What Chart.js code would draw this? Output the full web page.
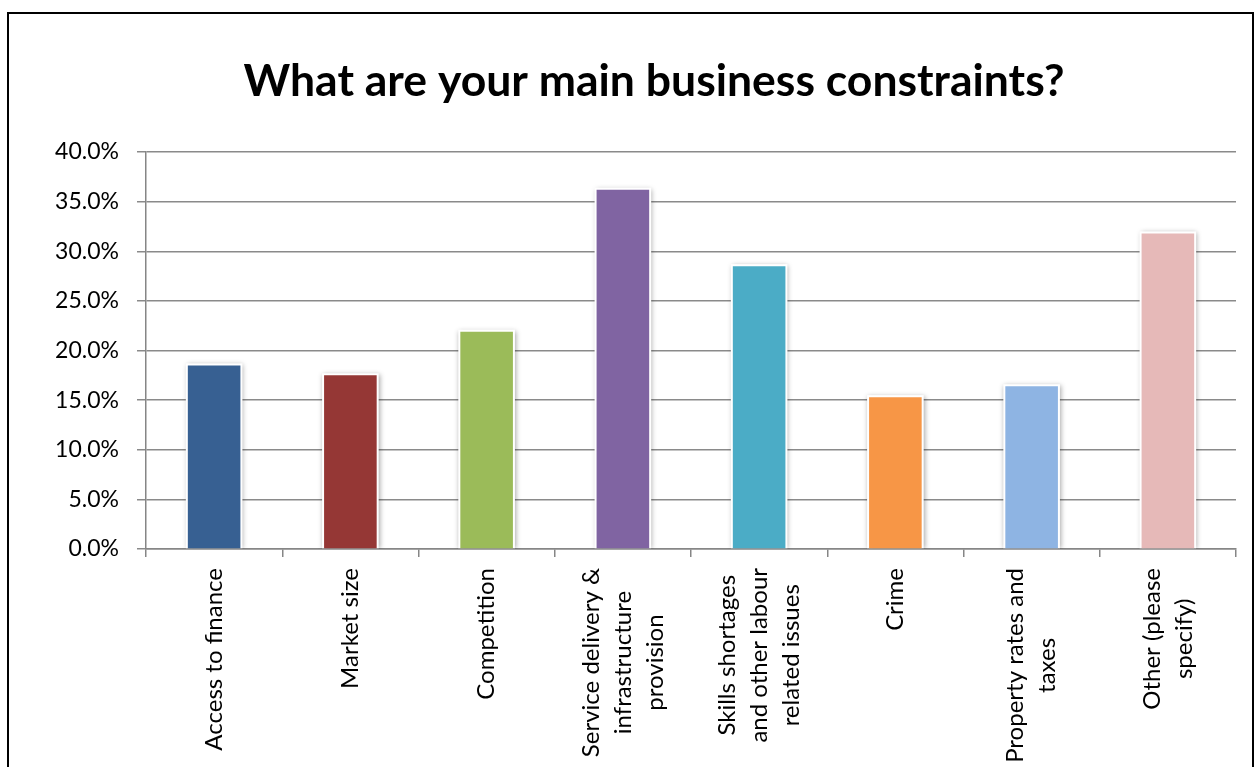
<!DOCTYPE html>
<html>
<head>
<meta charset="utf-8">
<title>Business constraints</title>
<script src="https://cdn.jsdelivr.net/npm/chart.js@4.4.1/dist/chart.umd.min.js"></script>
<style>
  html, body { margin: 0; padding: 0; background: #fff; overflow: hidden; }
  #frame { position: absolute; left: 7px; top: 12px; width: 1243px; height: 800px; border: 2px solid #000; background: #fff; }
  #chart { display: block; }
</style>
</head>
<body>
<div id="frame"><canvas id="chart" width="1243" height="753"></canvas></div>
<script>
// survey answers, share of respondents (%)
const categories = [
    ['Access to finance'],
    ['Market size'],
    ['Competition'],
    ['Service delivery &', 'infrastructure', 'provision'],
    ['Skills shortages', 'and other labour', 'related issues'],
    ['Crime'],
    ['Property rates and', 'taxes'],
    ['Other (please', 'specify)']
];
const shares = [18.5, 17.5, 21.9, 36.2, 28.5, 15.3, 16.4, 31.8];
const barColors = ['#376092', '#953735', '#9BBB59', '#8064A2', '#4BACC6', '#F79646', '#8EB4E3', '#E6B9B8'];
const yMax = 40;
const yStep = 5;
const chartTitle = 'What are your main business constraints?';

const FONT = 'Lato, "Open Sans", sans-serif';

// white outline with a soft shadow behind each bar
const barBacking = {
    id: 'barBacking',
    beforeDatasetDraw(chart, args) {
        const ctx = chart.ctx;
        const meta = chart.getDatasetMeta(args.index);
        ctx.save();
        ctx.beginPath();
        ctx.rect(chart.chartArea.left, chart.chartArea.top - 10,
                 chart.chartArea.right - chart.chartArea.left,
                 chart.chartArea.bottom - chart.chartArea.top + 10);
        ctx.clip();
        ctx.fillStyle = '#fff';
        ctx.shadowColor = 'rgba(0, 0, 0, 0.35)';
        ctx.shadowBlur = 5;
        ctx.shadowOffsetX = 1;
        ctx.shadowOffsetY = 1;
        meta.data.forEach(bar => {
            const { x, y, base, width } = bar.getProps(['x', 'y', 'base', 'width'], true);
            ctx.fillRect(x - width / 2 - 2, y - 2, width + 4, base - y + 2);
        });
        ctx.restore();
    }
};

// heading, sitting a little left of the plot centre
const heading = {
    id: 'heading',
    afterDraw(chart) {
        const ctx = chart.ctx;
        ctx.save();
        ctx.font = 'bold 44.5px ' + FONT;
        ctx.fillStyle = '#000';
        ctx.textAlign = 'center';
        ctx.textBaseline = 'middle';
        ctx.fillText(chartTitle, 645, 67.7);
        ctx.restore();
    }
};

// rotated category labels, lines centred inside each label block
const rotatedLabels = {
    id: 'rotatedLabels',
    afterDraw(chart) {
        const ctx = chart.ctx;
        const xScale = chart.scales.x;
        const lineH = 32;
        ctx.save();
        ctx.font = '24px ' + FONT;
        ctx.fillStyle = '#000';
        ctx.textAlign = 'center';
        ctx.textBaseline = 'middle';
        categories.forEach((lines, i) => {
            const x = xScale.getPixelForTick(i);
            const y = chart.chartArea.bottom + 19;
            const w = Math.max(...lines.map(l => ctx.measureText(l).width));
            ctx.save();
            ctx.translate(x, y);
            ctx.rotate(-Math.PI / 2);
            lines.forEach((line, k) => {
                ctx.fillText(line, -w / 2, (k - (lines.length - 1) / 2) * lineH);
            });
            ctx.restore();
        });
        ctx.restore();
    }
};

const ctx = document.getElementById('chart').getContext('2d');
const chart = new Chart(ctx, {
    type: 'bar',
    data: {
        labels: categories,
        datasets: [{
            data: shares,
            backgroundColor: barColors,
            borderWidth: 0,
            categoryPercentage: 1,
            barPercentage: 0.386
        }]
    },
    options: {
        responsive: false,
        animation: false,
        layout: { padding: { left: 0, right: 16, top: 138, bottom: 0 } },
        plugins: {
            legend: { display: false },
            tooltip: { enabled: false },
            title: { display: false }
        },
        scales: {
            x: {
                grid: {
                    offset: true,
                    drawOnChartArea: false,
                    drawTicks: true,
                    tickLength: 8,
                    color: '#868686',
                    lineWidth: 1.5
                },
                border: { color: '#868686', width: 1.5 },
                ticks: { display: false, autoSkip: false },
                afterFit(scale) { scale.height = 218; }
            },
            y: {
                min: 0,
                max: yMax,
                ticks: {
                    stepSize: yStep,
                    color: '#000',
                    padding: 18,
                    font: { family: FONT, size: 23 },
                    callback: v => v.toFixed(1) + '%'
                },
                grid: {
                    color: '#8a8a8a',
                    lineWidth: 1.5,
                    tickLength: 9
                },
                border: { color: '#868686', width: 1.5 },
                afterFit(scale) { scale.width = 137; }
            }
        }
    },
    plugins: [barBacking, heading, rotatedLabels]
});
</script>
</body>
</html>
